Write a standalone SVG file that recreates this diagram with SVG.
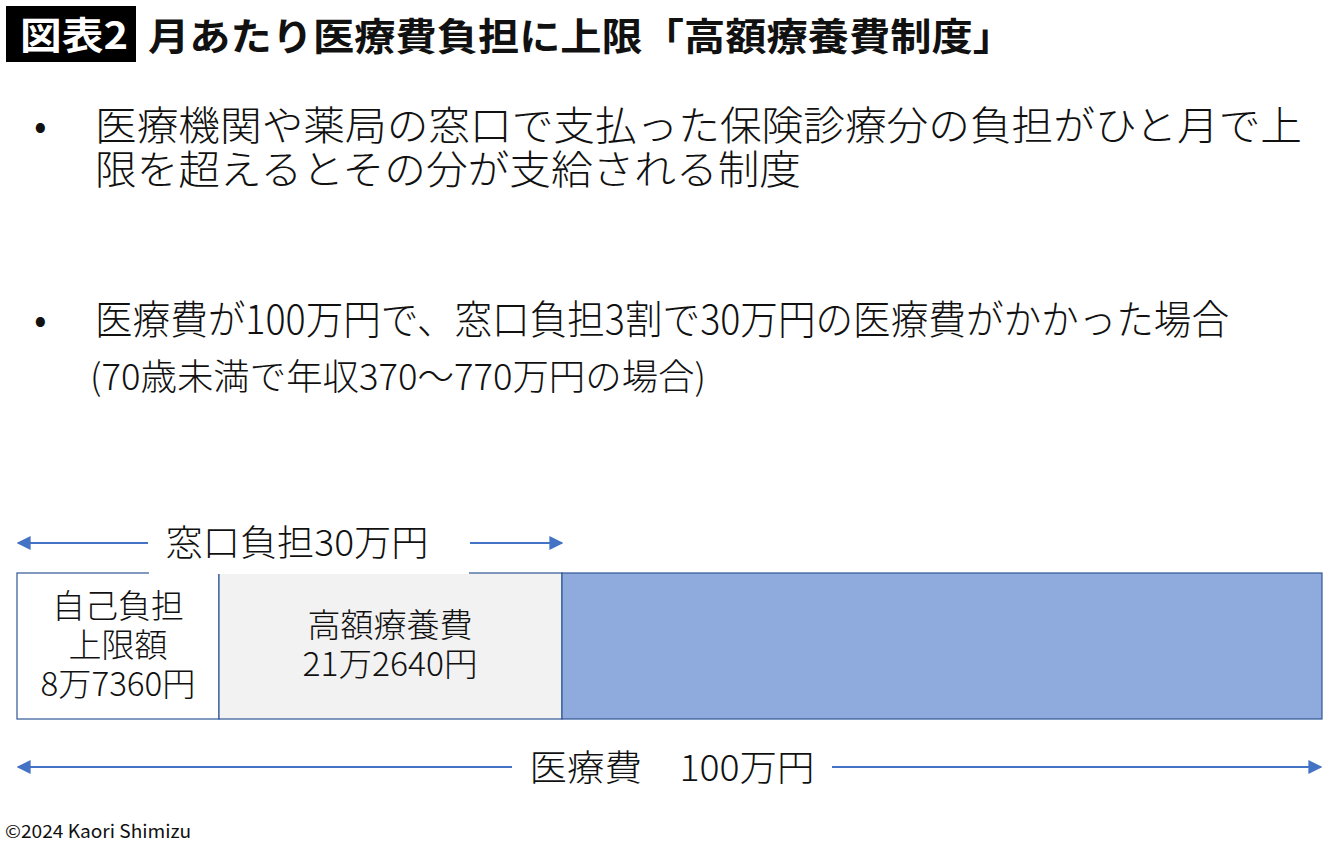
<svg xmlns="http://www.w3.org/2000/svg" width="1340" height="843" viewBox="0 0 1340 843">
<defs>
<style>
.jp{font-family:"Noto Sans CJK JP","Noto Sans",sans-serif;fill:#111;}
.body{font-size:40px;font-weight:300;}
.lbl{font-size:33px;font-weight:300;text-anchor:middle;}
.title{font-size:38px;font-weight:700;}
.arr{stroke:#4472c4;stroke-width:2;fill:none;}
.cell{stroke:#2f5597;stroke-width:1.2;}
</style>
<marker id="ah" viewBox="0 0 10 10" refX="9" refY="5" markerWidth="7" markerHeight="7" markerUnits="strokeWidth" orient="auto-start-reverse">
<path d="M0,0 L10,5 L0,10 z" fill="#4472c4"/>
</marker>
</defs>
<rect width="1340" height="843" fill="#fff"/>
<g id="title">
<rect x="6" y="6" width="130" height="56" fill="#000"/>
<text class="jp title" x="20" y="49" style="fill:#fff;font-weight:600" textLength="108" lengthAdjust="spacingAndGlyphs">図表2</text>
<text class="jp title" x="148" y="50" textLength="866" lengthAdjust="spacingAndGlyphs">月あたり医療費負担に上限「高額療養費制度」</text>
</g>
<g id="bullets">
<text class="jp body" x="34" y="140">•</text>
<text class="jp body" x="95" y="140" textLength="1207" lengthAdjust="spacingAndGlyphs">医療機関や薬局の窓口で支払った保険診療分の負担がひと月で上</text>
<text class="jp body" x="95" y="184" textLength="706" lengthAdjust="spacingAndGlyphs">限を超えるとその分が支給される制度</text>
<text class="jp body" x="34" y="334">•</text>
<text class="jp body" x="95" y="334" textLength="1134" lengthAdjust="spacingAndGlyphs">医療費が100万円で、窓口負担3割で30万円の医療費がかかった場合</text>
<text class="jp body" x="90" y="390" textLength="616" lengthAdjust="spacingAndGlyphs" style="font-size:36px">(70歳未満で年収370～770万円の場合)</text>
</g>
<g id="connectors">
<line class="arr" x1="148" y1="543" x2="18" y2="543" marker-end="url(#ah)"/>
<line class="arr" x1="470" y1="543" x2="562" y2="543" marker-end="url(#ah)"/>
<line class="arr" x1="512" y1="767" x2="18" y2="767" marker-end="url(#ah)"/>
<line class="arr" x1="832" y1="767" x2="1321" y2="767" marker-end="url(#ah)"/>
</g>
<g id="cell-self">
<rect class="cell" x="17" y="573" width="202" height="146" fill="#fff"/>
<text class="jp lbl" x="118" y="618">自己負担</text>
<text class="jp lbl" x="118" y="657">上限額</text>
<text class="jp lbl" x="118" y="696" textLength="155" lengthAdjust="spacingAndGlyphs">8万7360円</text>
</g>
<g id="cell-kougaku">
<rect class="cell" x="219" y="573" width="343" height="146" fill="#f2f2f2"/>
<text class="jp lbl" x="390" y="637">高額療養費</text>
<text class="jp lbl" x="390" y="676" textLength="175" lengthAdjust="spacingAndGlyphs">21万2640円</text>
</g>
<g id="cell-insurance">
<rect class="cell" x="562" y="573" width="760" height="146" fill="#8faadc"/>
</g>
<g id="label-window">
<rect x="149" y="522" width="320" height="52" fill="#fff"/>
<text class="jp lbl" x="297" y="556" style="font-size:36px" textLength="263" lengthAdjust="spacingAndGlyphs">窓口負担30万円</text>
</g>
<g id="label-total">
<rect x="513" y="745" width="318" height="46" fill="#fff"/>
<text class="jp lbl" x="672" y="781" style="font-size:36px" textLength="285" lengthAdjust="spacingAndGlyphs">医療費　100万円</text>
</g>
<text class="jp" x="5" y="838" style="font-size:18px;font-weight:400" textLength="186" lengthAdjust="spacingAndGlyphs">©2024 Kaori Shimizu</text>
</svg>
